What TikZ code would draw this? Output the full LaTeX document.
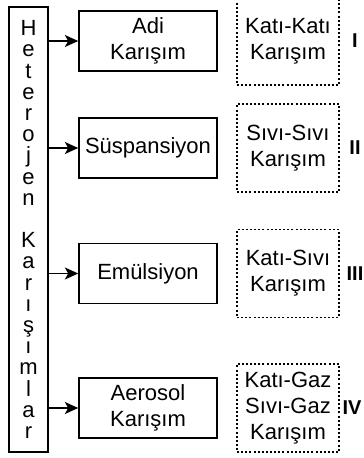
\documentclass[tikz,border=0pt]{standalone}
\usepackage{fontspec}
\setmainfont{Liberation Sans}
\usetikzlibrary{arrows.meta}

\tikzset{
  grp/.style={draw, line width=1.1pt, minimum width=29.25pt, minimum height=333.75pt,
    inner sep=0pt, align=center, font=\fontsize{16.5}{15.9}\selectfont},
  kind/.style={draw, line width=1.2pt, minimum width=103.5pt, minimum height=45pt,
    inner sep=1pt, align=center, font=\fontsize{16.5}{19.3}\selectfont},
  phase/.style={draw, line width=1.2pt, dash pattern=on 1.5pt off 1.6pt,
    minimum width=76.5pt, minimum height=66pt, inner sep=1pt, align=center,
    font=\fontsize{16.5}{19.3}\selectfont},
  num/.style={inner sep=0pt, font=\fontsize{15}{17}\selectfont\bfseries},
  arr/.style={-{Stealth[length=10pt, width=9pt, inset=2.5pt]}, line width=1.1pt},
}

\begin{document}
\begin{tikzpicture}[x=0.75pt, y=-0.75pt]

        \useasboundingbox (0,0) rectangle (364,458);

        % Heterojen karisimlar
        \node[grp] (het) at (28.5,229.5)
            {H\\e\\t\\e\\r\\o\\j\\e\\n\\~\\K\\a\\r\\ı\\ş\\ı\\m\\l\\a\\r};

        % Karisim turleri
        \node[kind] (adi) at (148,41) {Adi\\Karışım};
        \node[kind] (susp) at (148,148) {Süspansiyon};
        \node[kind] (emul) at (148,273.5) {Emülsiyon};
        \node[kind] (aero) at (148,408) {Aerosol\\Karışım};

        % Fazlar
        \node[phase] (kk) at (288,41) {Katı-Katı\\Karışım};
        \node[phase] (ss) at (288,148) {Sıvı-Sıvı\\Karışım};
        \node[phase] (ks) at (288,273.5) {Katı-Sıvı\\Karışım};
        \node[phase] (gaz) at (288,408) {Katı-Gaz\\Sıvı-Gaz\\Karışım};

        % Numaralar
        \node[num] (n1) at (355,41) {I};
        \node[num] (n2) at (355,148) {II};
        \node[num] (n3) at (355,273.5) {III};
        \node[num] (n4) at (352,408) {IV};

        % Oklar
        \draw[arr] (het.east |- adi) -- (adi);
        \draw[arr] (het.east |- susp) -- (susp);
        \draw[arr] (het.east |- emul) -- (emul);
        \draw[arr] (het.east |- aero) -- (aero);

\end{tikzpicture}
\end{document}
